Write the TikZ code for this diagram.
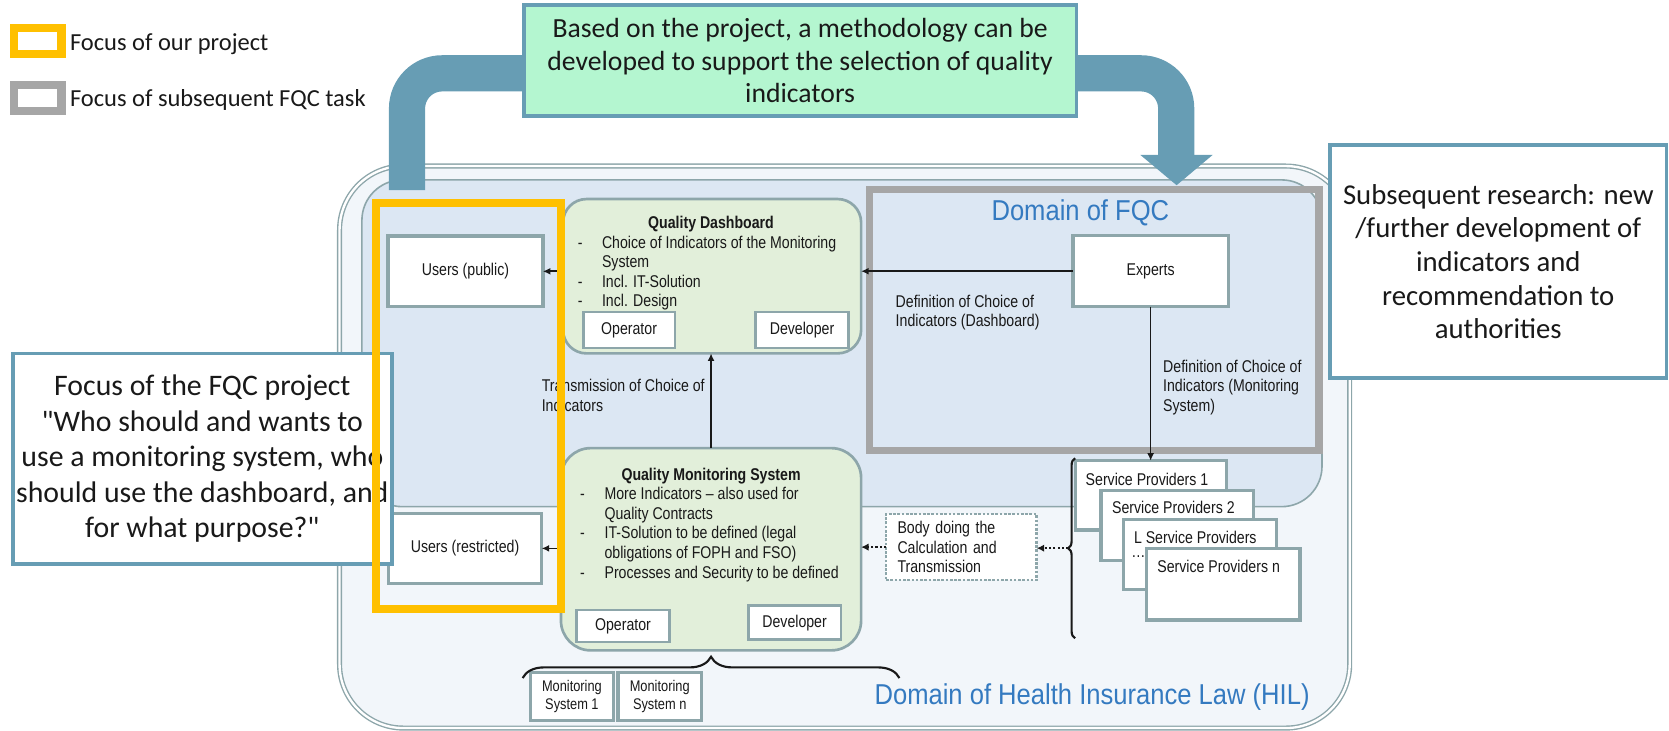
\documentclass[tikz,border=0pt]{standalone}
\usepackage{fontspec}
\setmainfont{Carlito}[Ligatures=TeXOff]
\newfontfamily\arialn[FakeStretch=0.83]{Liberation Sans}
\newfontfamily\arialwide[FakeStretch=0.89]{Liberation Sans}
\usetikzlibrary{arrows.meta,decorations.pathreplacing}
\definecolor{arrowblue}{RGB}{103,157,180}
\definecolor{mint}{RGB}{180,246,208}
\definecolor{focusyellow}{RGB}{255,192,0}
\definecolor{focusgray}{RGB}{166,166,166}
\definecolor{fqcfill}{RGB}{220,231,243}
\definecolor{hilfill}{RGB}{242,246,250}
\definecolor{boxgray}{RGB}{141,166,170}
\definecolor{greenfill}{RGB}{226,239,218}
\definecolor{domainblue}{RGB}{52,122,192}
\definecolor{ink}{RGB}{25,25,25}
\begin{document}
\begin{tikzpicture}[x=1pt,y=-1pt,
  every node/.style={inner sep=0pt, outer sep=0pt, text=ink},
  small/.style={font=\arialn\fontsize{16}{18.45}\selectfont},
  smallbold/.style={font=\arialn\bfseries\fontsize{16}{18.45}\selectfont},
  wbox/.style={draw=boxgray, line width=3pt, fill=white, small, align=center},
  gbox/.style={draw=boxgray, line width=2.5pt, fill=greenfill, rounded corners=#1},
  focusbox/.style={draw=arrowblue, line width=3.5pt, fill=white, align=center},
  conn/.style={line width=1.6pt, draw=ink, -{Latex[length=7pt,width=6.5pt]}},
  dconn/.style={line width=2pt, draw=ink, dash pattern=on 2pt off 2pt, -{Latex[length=7pt,width=7pt]}},
  lbl/.style={small, align=left, anchor=north west},
  domainlbl/.style={font=\arialwide\fontsize{27}{32}\selectfont, text=domainblue, anchor=base},
  bracestyle/.style={line width=2pt, draw=ink, decorate},
  legendtext/.style={anchor=base west, font=\fontsize{23}{27}\selectfont},
  spbox/.style={wbox, line width=3pt, minimum width=143pt, minimum height=65.5pt},
  sptext/.style={small, anchor=west},
  msbox/.style={draw=boxgray, line width=3pt, fill=white, align=center,
    font=\arialn\fontsize{14.5}{16.8}\selectfont, minimum width=78.5pt, minimum height=44.5pt},
]
\useasboundingbox (0,0) rectangle (1568,686);

% domains
\draw[draw=boxgray, line width=1.3pt, double=white, double distance=2.2pt, fill=hilfill, rounded corners=60pt] (319,156) rectangle (1268,684);
\draw[draw=boxgray, line width=1.5pt, fill=fqcfill, rounded corners=38pt] (340,169) rectangle (1242,476);
\node[domainlbl] (dfqc) at (1015,207) {Domain of FQC};
\node[domainlbl] (dhil) at (1026,662) {Domain of Health Insurance Law (HIL)};

% big arrow
\coordinate (arrS) at (382.4,178.5);
\coordinate (arrE) at (1105.4,174);
\draw[arrowblue, line width=34pt, rounded corners=33pt] (arrS) -- (382.4,68.9) -- (1105,68.9) -- (1105,146);
\fill[arrowblue] (1071.4,145.6) -- (1139.2,145.6) -- (arrE) -- cycle;

\node[focusbox, fill=mint, minimum width=519.5pt, minimum height=104pt, font=\fontsize{26}{30.5}\selectfont] (top) at (751.7,57) {Based on the project, a methodology can be\\developed to support the selection of quality\\indicators};

% gray focus
\draw[focusgray, line width=7pt] (817,178) rectangle (1239,423);

% users and experts
\node[wbox, minimum width=145.5pt, minimum height=66.3pt] (usp) at (437.3,254.9) {Users (public)};
\node[wbox, minimum width=144pt, minimum height=65.7pt] (usr) at (436.9,515.2) {Users (restricted)};
\node[wbox, minimum width=146pt, minimum height=66.4pt] (exp) at (1081,254.8) {Experts};

% dashboard
\node[gbox=22pt, minimum width=280pt, minimum height=145pt] (dash) at (669,259.5) {};
\node[smallbold] (dasht) at (668,210.4) {Quality Dashboard};
\node[small, anchor=north west] (dashl) at (542.8,220.1) {\begin{tabular}{@{}p{22.8pt}@{}l@{}}-&Choice of Indicators of the Monitoring\\&System\\-&Incl. IT-Solution\\-&Incl. Design\end{tabular}};
\node[wbox, line width=2.5pt, minimum width=86pt, minimum height=34pt] (dop) at (591,310) {Operator};
\node[wbox, line width=2.5pt, minimum width=87pt, minimum height=34pt] (ddev) at (753.5,310) {Developer};

% monitoring system
\node[gbox=28pt, minimum width=282pt, minimum height=190pt] (qms) at (668,516) {};
\node[smallbold] (qmst) at (668,447) {Quality Monitoring System};
\node[small, anchor=north west] (qmsl) at (545.1,456.5) {\begin{tabular}{@{}p{22.9pt}@{}l@{}}-&More Indicators – also used for\\&Quality Contracts\\-&IT-Solution to be defined (legal\\&obligations of FOPH and FSO)\\-&Processes and Security to be defined\end{tabular}};
\node[wbox, line width=2.5pt, minimum width=87.5pt, minimum height=30pt] (qop) at (585.3,588) {Operator};
\node[wbox, line width=2.5pt, minimum width=87pt, minimum height=32pt] (qdev) at (746.5,585) {Developer};

% monitoring systems
\node[msbox] (ms1) at (537.3,654.3) {Monitoring\\System 1};
\node[msbox] (msn) at (619.8,654.3) {Monitoring\\System n};
\draw[bracestyle, decoration={brace, amplitude=20pt}] (491,637) -- (845,637);

% body
\node[draw=boxgray, line width=2.5pt, dash pattern=on 2.5pt off 1.5pt, fill=white, small, align=left, text width=120pt, inner xsep=10.8pt, minimum height=62pt] (body) at (903.2,514) {Body doing the\\Calculation and\\Transmission};

% service providers
\node[spbox, minimum width=142.5pt, minimum height=65.2pt] (sp1) at (1081.3,465.4) {};
\node[sptext] (sp1t) at (1020,450.5) {Service Providers 1};
\node[spbox] (sp2) at (1105.8,493.5) {};
\node[sptext] (sp2t) at (1044.8,476.5) {Service Providers 2};
\node[spbox, minimum width=144pt] (sp3) at (1127.4,521) {};
\node[sptext] (sp3t) at (1065.4,504.5) {L Service Providers};
\node[sptext] (sp3d) at (1063,523) {…};
\node[spbox, minimum width=144pt, minimum height=67.5pt] (spn) at (1149.4,548.8) {};
\node[sptext] (spnt) at (1087.3,532) {Service Providers n};
\draw[bracestyle, decoration={brace, amplitude=6.5pt}] (1010,599.6) -- (1010,430.5);
\coordinate (bracetip) at (1003.5,515);

% connectors
\draw[conn] (usp.east -| dash.west) -- (usp.east);
\draw[conn] (exp.west) -- (exp.west -| dash.east);
\draw[conn] (exp.south) -- (exp.south |- sp1.north);
\draw[conn] (qms.north) -- (qms.north |- dash.south);
\draw[conn] (usr.east -| qms.west) -- (usr.east);
\draw[dconn] (body.west) -- (body.west -| qms.east);
\draw[dconn] (bracetip) -- (bracetip -| body.east);

% labels
\node[lbl] (ldd) at (841.5,276.9) {Definition of Choice of\\Indicators (Dashboard)};
\node[lbl] (ldm) at (1092.8,338) {Definition of Choice of\\Indicators (Monitoring\\System)};
\node[lbl] (ltr) at (509,356.4) {Transmission of Choice of\\Indicators};

% focus box left
\node[focusbox, minimum width=355.8pt, minimum height=198pt, font=\fontsize{28}{33.3}\selectfont] (ffqc) at (190.1,431) {Focus of the FQC project\\"Who should and wants to\\use a monitoring system, who\\should use the dashboard, and\\for what purpose?"};

% yellow focus
\draw[focusyellow, line width=7.5pt] (353,191) rectangle (527,572);

% subsequent research
\node[focusbox, minimum width=316.3pt, minimum height=219.2pt, font=\fontsize{27}{31.5}\selectfont] (subs) at (1407.6,245.8) {Subsequent research: new\\/further development of\\indicators and\\recommendation to\\authorities};

% legend
\node[draw=focusyellow, line width=7.8pt, fill=white, minimum width=44.5pt, minimum height=24.5pt] (ly) at (35.6,38.7) {};
\node[legendtext] (lyt) at (65.8,47) {Focus of our project};
\node[draw=focusgray, line width=7.8pt, fill=white, minimum width=44.5pt, minimum height=24pt] (lg) at (35.6,92) {};
\node[legendtext] (lgt) at (65.8,100.2) {Focus of subsequent FQC task};
\end{tikzpicture}
\end{document}
